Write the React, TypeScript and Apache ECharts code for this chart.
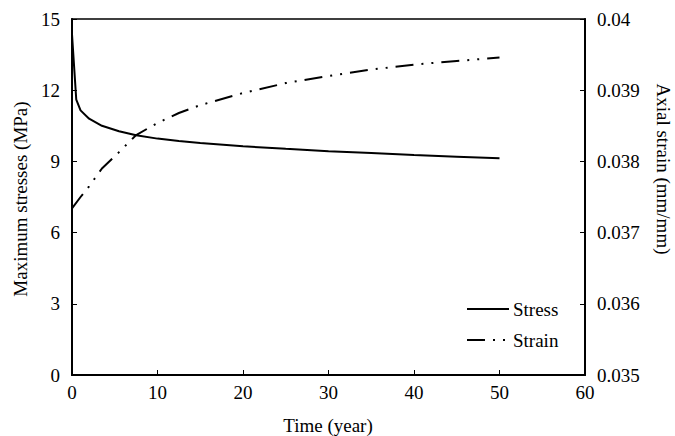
import React, { useEffect, useRef } from "react";
import * as echarts from "echarts";

const stressTime = [0, 0.5, 1, 2, 3.5, 5.5, 7.5, 10, 12.5, 15, 20, 25, 30, 35, 40, 45, 50];
const stressValues = [14.35, 11.6, 11.15, 10.8, 10.5, 10.27, 10.1, 9.96, 9.86, 9.78, 9.64, 9.53, 9.43, 9.35, 9.27, 9.2, 9.13];

const strainTime = [0, 1, 2, 3.5, 5.5, 7.5, 10, 12.5, 15, 20, 25, 30, 35, 40, 45, 50];
const strainValues = [0.03734, 0.0375, 0.03765, 0.0379, 0.03813, 0.03837, 0.03854, 0.03868, 0.03879, 0.03896, 0.0391, 0.0392, 0.03929, 0.03936, 0.03941, 0.03946];

const seriesNames = ["Stress", "Strain"];
const xTitle = "Time (year)";
const yLeftTitle = "Maximum stresses (MPa)";
const yRightTitle = "Axial strain (mm/mm)";

const FONT = "Liberation Serif";
const STRAIN_DASH = [18, 8, 2, 8, 2, 8];

export default function App() {
  const ref = useRef<HTMLDivElement>(null);
  useEffect(() => {
    if (!ref.current) return;
    const chart = echarts.init(ref.current, null, { renderer: "svg" });
    const axisText = { color: "#000", fontFamily: FONT, fontSize: 19 };
    const font = `19px "${FONT}"`;
    chart.setOption({
      animation: false,
      backgroundColor: "#fff",
      grid: {
        left: 72,
        right: 90,
        top: 19,
        bottom: 61,
        show: true,
        borderColor: "#000",
        borderWidth: 1.5,
        containLabel: false,
      },
      xAxis: {
        type: "value",
        min: 0,
        max: 60,
        interval: 10,
        axisLine: { show: true, lineStyle: { color: "#000", width: 2 } },
        axisTick: { show: true, inside: true, length: 5, lineStyle: { color: "#000", width: 1 } },
        axisLabel: { ...axisText, margin: 8 },
        splitLine: { show: false },
      },
      yAxis: [
        {
          type: "value",
          min: 0,
          max: 15,
          interval: 3,
          position: "left",
          axisLine: { show: true, lineStyle: { color: "#000", width: 2 } },
          axisTick: { show: true, inside: true, length: 5, lineStyle: { color: "#000", width: 1 } },
          axisLabel: { ...axisText, margin: 12 },
          splitLine: { show: false },
        },
        {
          type: "value",
          min: 0.035,
          max: 0.04,
          interval: 0.001,
          position: "right",
          axisLine: { show: true, lineStyle: { color: "#000", width: 2 } },
          axisTick: { show: true, inside: true, length: 5, lineStyle: { color: "#000", width: 1 } },
          axisLabel: {
            ...axisText,
            margin: 12,
            formatter: (v: number) => String(parseFloat(v.toFixed(3))),
          },
          splitLine: { show: false },
        },
      ],
      series: [
        {
          name: seriesNames[0],
          type: "line",
          yAxisIndex: 0,
          symbol: "none",
          showSymbol: false,
          smooth: false,
          lineStyle: { color: "#000", width: 2, type: "solid" },
          itemStyle: { color: "#000" },
          data: stressTime.map((t, i) => [t, stressValues[i]]),
        },
        {
          name: seriesNames[1],
          type: "line",
          yAxisIndex: 1,
          symbol: "none",
          showSymbol: false,
          smooth: false,
          lineStyle: { color: "#000", width: 2, type: STRAIN_DASH },
          itemStyle: { color: "#000" },
          data: strainTime.map((t, i) => [t, strainValues[i]]),
        },
      ],
      graphic: [
        {
          type: "text",
          x: 328,
          y: 425,
          style: { text: xTitle, fill: "#000", align: "center", verticalAlign: "middle", font },
        },
        {
          type: "text",
          x: 20,
          y: 199,
          rotation: Math.PI / 2,
          style: { text: yLeftTitle, fill: "#000", align: "center", verticalAlign: "middle", font },
        },
        {
          type: "text",
          x: 663,
          y: 169,
          rotation: -Math.PI / 2,
          style: { text: yRightTitle, fill: "#000", align: "center", verticalAlign: "middle", font },
        },
        {
          type: "line",
          shape: { x1: 467, y1: 309, x2: 509, y2: 309 },
          style: { stroke: "#000", lineWidth: 2 },
        },
        {
          type: "text",
          x: 513,
          y: 309,
          style: { text: seriesNames[0], fill: "#000", align: "left", verticalAlign: "middle", font },
        },
        {
          type: "line",
          shape: { x1: 467, y1: 340, x2: 509, y2: 340 },
          style: { stroke: "#000", lineWidth: 2, lineDash: STRAIN_DASH },
        },
        {
          type: "text",
          x: 513,
          y: 340,
          style: { text: seriesNames[1], fill: "#000", align: "left", verticalAlign: "middle", font },
        },
      ],
    });
    return () => chart.dispose();
  }, []);
  return (
    <div
      ref={ref}
      style={{ position: "fixed", left: 0, top: 0, width: 675, height: 436 }}
    />
  );
}
